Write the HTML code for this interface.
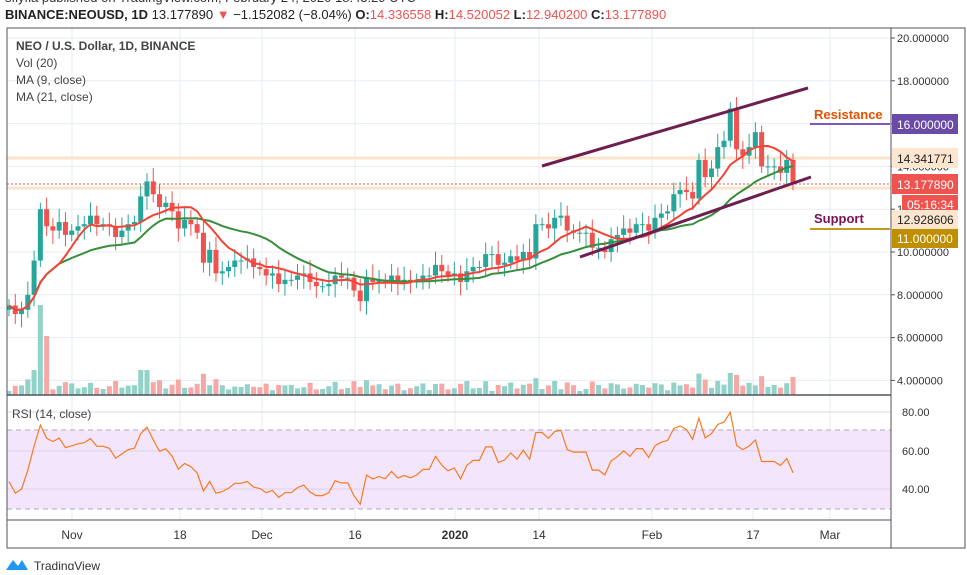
<!DOCTYPE html><html><head><meta charset="utf-8"><style>
body{margin:0;background:#fff;width:967px;height:570px;overflow:hidden;font-family:"Liberation Sans",sans-serif}
</style></head><body>
<svg id="s" width="967" height="570" xmlns="http://www.w3.org/2000/svg" font-family="Liberation Sans, sans-serif">
<text x="5" y="2" font-size="13" fill="#333">sflyfia published on TradingView.com, February 24, 2020 18:43:29 UTC</text>
<text x="5" y="19" font-size="13" fill="#222"><tspan font-weight="bold">BINANCE:NEOUSD, 1D</tspan> 13.177890 <tspan fill="#ef5350">▼</tspan> −1.152082 (−8.04%) <tspan font-weight="bold">O:</tspan><tspan fill="#ef5350">14.336558</tspan> <tspan font-weight="bold">H:</tspan><tspan fill="#ef5350">14.520052</tspan> <tspan font-weight="bold">L:</tspan><tspan fill="#ef5350">12.940200</tspan> <tspan font-weight="bold">C:</tspan><tspan fill="#ef5350">13.177890</tspan></text>
<g id="g"></g>
</svg>
<script>
var S='http://www.w3.org/2000/svg',G=document.getElementById('g');
function el(t,a,txt){var e=document.createElementNS(S,t);for(var k in a)e.setAttribute(k,a[k]);if(txt!==undefined)e.textContent=txt;G.appendChild(e);return e;}
var L=7,R=891,T=28,B=548;
var vx=[72,180,262,355,455,539,652,753,830];
vx.forEach(function(x){el('line',{x1:x,y1:T,x2:x,y2:520,stroke:'#e6edf3'});});
function py(p){return 38+(20-p)*21.4;}
[20,18,16,14,12,10,8,6,4].forEach(function(p){el('line',{x1:L,y1:py(p),x2:R,y2:py(p),stroke:'#e6edf3'});});
el('rect',{x:L,y:430,width:R-L,height:79,fill:'#f3e5fc'});
[412,451,489].forEach(function(y){el('line',{x1:L,y1:y,x2:R,y2:y,stroke:'#dcd4ec'});});
el('line',{x1:L,y1:430,x2:R,y2:430,stroke:'#b0a8b8','stroke-dasharray':'5,4'});
el('line',{x1:L,y1:509,x2:R,y2:509,stroke:'#b0a8b8','stroke-dasharray':'5,4'});
el('line',{x1:L,y1:158,x2:R,y2:158,stroke:'#fbe3cc','stroke-width':3});
el('line',{x1:L,y1:188,x2:R,y2:188,stroke:'#fbe3cc','stroke-width':3});
el('line',{x1:L,y1:184,x2:R,y2:184,stroke:'#ef5350','stroke-dasharray':'2,2'});
var c=[7.5,7.1,7.3,8.0,9.6,12.0,11.2,11.0,11.4,10.8,11.0,11.2,11.3,11.7,11.3,11.3,11.2,10.7,11.0,11.3,11.4,12.6,13.3,12.7,12.1,12.3,11.9,11.1,11.5,11.3,10.9,9.5,10.1,9.0,9.1,9.3,9.6,9.6,9.7,9.3,9.2,8.9,9.0,8.5,8.7,8.7,8.9,9.0,8.6,8.4,8.4,8.5,8.9,8.8,8.8,8.2,7.7,8.8,8.6,8.7,8.6,8.9,8.6,8.7,8.6,
8.7,8.9,8.9,9.4,9.1,8.9,9.0,8.6,9.1,9.3,9.3,9.9,9.9,9.4,9.5,9.8,9.6,10.0,9.7,
11.3,11.3,11.1,11.6,11.7,11.0,10.9,10.9,10.9,10.2,10.2,10.0,10.6,10.8,11.1,10.9,11.3,11.3,11.0,11.6,11.8,11.9,12.7,12.9,12.8,12.5,14.3,13.5,13.9,14.9,15.2,16.7,14.8,14.5,14.9,15.6,14.0,14.0,14.0,13.7,14.3,13.18];
var N=c.length,st=(793-9)/(N-1);function X(i){return 9+i*st;}
for(var i=0;i<N;i++){var up=i==0?true:c[i]>=c[i-1];var h=4+Math.abs(c[i]-(i?c[i-1]:c[i]))*8+((i*37)%7);
if(i==5)h=90;if(i==6)h=59;if(i==4)h=25;if(i==21||i==22)h=25;h=Math.min(h,i>N-20?30:h);
el('rect',{x:X(i)-2.5,y:395-h,width:5,height:h,fill:up?'#93d2c8':'#f5a8a6'});}
for(var i=0;i<N;i++){var o=i?c[i-1]:c[i]-0.2,cl=c[i],up=cl>=o,col=up?'#26a69a':'#ef5350';
var hi=Math.max(o,cl)+0.3+((i*13)%5)*0.08,lo=Math.min(o,cl)-0.3-((i*7)%5)*0.08;
el('line',{x1:X(i),y1:py(hi),x2:X(i),y2:py(lo),stroke:col});
var y1=py(Math.max(o,cl)),y2=py(Math.min(o,cl));el('rect',{x:X(i)-2.5,y:y1,width:5,height:Math.max(1,y2-y1),fill:col});}
function ma(n,col){var d='';for(var i=0;i<N;i++){var s=0,k=0;for(var j=Math.max(0,i-n+1);j<=i;j++){s+=c[j];k++;}d+=(i?'L':'M')+X(i).toFixed(1)+' '+py(s/k).toFixed(1);}el('path',{d:d,fill:'none',stroke:col,'stroke-width':2});}
ma(21,'#388e3c');ma(9,'#f44336');
el('line',{x1:542,y1:166,x2:808,y2:88,stroke:'#6d1f4f','stroke-width':3});
el('line',{x1:580,y1:257,x2:811,y2:177,stroke:'#6d1f4f','stroke-width':3});
el('line',{x1:810,y1:124,x2:890,y2:124,stroke:'#7e57c2','stroke-width':2});
el('line',{x1:810,y1:229,x2:890,y2:229,stroke:'#c29a22','stroke-width':2});
el('text',{x:814,y:119,'font-size':13,'font-weight':'bold',fill:'#e65100'},'Resistance');
el('text',{x:814,y:223,'font-size':13,'font-weight':'bold',fill:'#7b1451'},'Support');
// rsi
var g=0.15,l=0.2,r=[44];for(var i=1;i<N;i++){var ch=c[i]-c[i-1],u=Math.max(ch,0),dn=Math.max(-ch,0);g=(g*13+u)/14;l=(l*13+dn)/14;r.push(100-100/(1+g/Math.max(l,0.001)));}
r[0]=44;r[1]=38;r[2]=40;
var d='';r.forEach(function(v,k){v=Math.max(30,Math.min(83,v));var y=412+(80-v)*1.93;d+=(k?'L':'M')+X(k).toFixed(1)+' '+y.toFixed(1);});
el('path',{d:d,fill:'none',stroke:'#f57c1f','stroke-width':1.2});
el('rect',{x:L,y:T,width:958,height:B-T,fill:'none',stroke:'#50535e'});
el('line',{x1:R,y1:T,x2:R,y2:B,stroke:'#50535e'});
el('line',{x1:L,y1:395,x2:R,y2:395,stroke:'#50535e','stroke-width':1.5});
el('line',{x1:L,y1:520,x2:R,y2:520,stroke:'#50535e'});
[20,18,16,14,12,10,8,6,4].forEach(function(p){el('line',{x1:R,y1:py(p),x2:R+4,y2:py(p),stroke:'#50535e'});el('text',{x:897,y:py(p)+4,'font-size':11,fill:'#333'},p.toFixed(6));});
[[412,'80.00'],[451,'60.00'],[489,'40.00']].forEach(function(a){el('text',{x:902,y:a[0]+4,'font-size':11,fill:'#333'},a[1]);});
function box(y,h,bg,fg,t,x){el('rect',{x:x||892,y:y,width:958-(x||892),height:h,fill:bg});el('text',{x:(x||892)+5,y:y+h-5,'font-size':12,fill:fg},t);}
box(114,20,'#6a4ca8','#fff','16.000000');box(148,20,'#fde6cf','#222','14.341771');box(174,20,'#ef5350','#fff','13.177890');
box(195,19,'#ef5350','#fff','05:16:34',902);box(210,19,'#fde6cf','#222','12.928606');box(229,19,'#bf8f00','#fff','11.000000');
el('text',{x:12,y:418,'font-size':12,fill:'#444'},'RSI (14, close)');
[['Nov',72],['18',180],['Dec',262],['16',355],['2020',455],['14',539],['Feb',652],['17',753],['Mar',830]].forEach(function(a){el('text',{x:a[1],y:539,'font-size':12,'text-anchor':'middle',fill:'#333','font-weight':a[0]=='2020'?'bold':'normal'},a[0]);});
el('text',{x:16,y:50,'font-size':12,'font-weight':'bold',fill:'#444'},'NEO / U.S. Dollar, 1D, BINANCE');
el('text',{x:16,y:67,'font-size':12,fill:'#444'},'Vol (20)');
el('text',{x:16,y:84,'font-size':12,fill:'#444'},'MA (9, close)');
el('text',{x:16,y:101,'font-size':12,fill:'#444'},'MA (21, close)');
el('path',{d:'M6 570 L13 560 L18 566 L22 560 L28 570 Z',fill:'#2196f3'});
el('text',{x:34,y:570,'font-size':12,fill:'#333'},'TradingView');
</script>
</body></html>
